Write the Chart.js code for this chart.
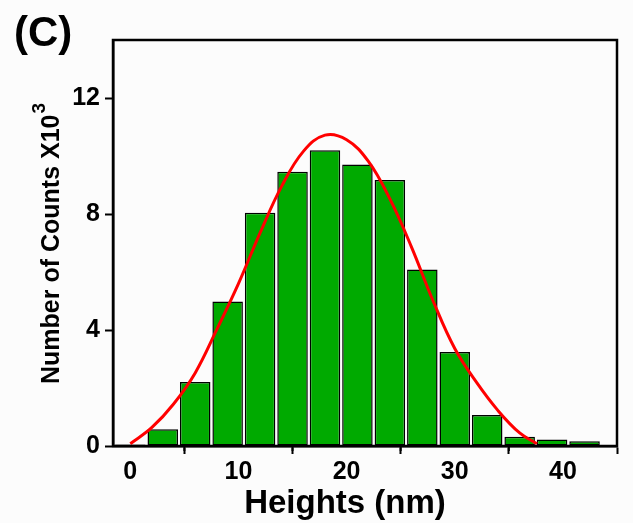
<!DOCTYPE html>
<html lang="en">
<head>
    <meta charset="UTF-8">
    <title>Heights histogram</title>
    <script src="https://cdn.jsdelivr.net/npm/chart.js"></script>
    <style>
        body { margin: 0; background: #fcfcfc; }
        #wrap { width: 633px; height: 523px; }
    </style>
</head>
<body>
    <div id="wrap"><canvas id="heightsChart" width="633" height="523"></canvas></div>
    <script>
        // histogram bins (nm) and counts (x10^3)
        const binCenters = [0, 3, 6, 9, 12, 15, 18, 21, 24, 27, 30, 33, 36, 39, 42];
        const binCounts = [0.05, 0.58, 2.21, 4.98, 8.04, 9.46, 10.2, 9.71, 9.17, 6.09, 3.24, 1.07, 0.32, 0.22, 0.16];

        // fitted curve
        const fitX = [0, 2, 4, 6, 8, 10, 12, 14, 16, 18, 20, 22, 24, 26, 28, 30, 32, 34, 36, 37.6];
        const fitY = [0.08, 0.64, 1.45, 2.52, 4.02, 5.6, 7.35, 8.96, 10.16, 10.72, 10.56, 9.82, 8.52, 6.86, 5.0, 3.36, 2.2, 1.22, 0.45, 0.08];

        const xMajorTicks = [0, 10, 20, 30, 40];
        const yTicks = [0, 4, 8, 12];

        const fontFamily = '"Liberation Sans", Arial, sans-serif';

        const labelsPlugin = {
            id: 'labelsPlugin',
            afterDraw(chart) {
                const ctx = chart.ctx;
                const area = chart.chartArea;
                const xs = chart.scales.x;
                ctx.save();
                // frame
                ctx.strokeStyle = '#000';
                ctx.lineWidth = 2.5;
                ctx.strokeRect(area.left, area.top, area.right - area.left, area.bottom - area.top);
                // minor ticks
                ctx.lineWidth = 2;
                for (let v = 5; v < 45; v += 10) {
                    const px = xs.getPixelForValue(v);
                    ctx.beginPath();
                    ctx.moveTo(px, area.bottom);
                    ctx.lineTo(px, area.bottom + 5);
                    ctx.stroke();
                }
                ctx.fillStyle = '#000';
                // panel letter
                ctx.font = 'bold 42px ' + fontFamily;
                ctx.textAlign = 'left';
                ctx.textBaseline = 'alphabetic';
                ctx.fillText('(C)', 14, 46);
                // x title
                ctx.font = 'bold 33px ' + fontFamily;
                ctx.textAlign = 'center';
                ctx.fillText('Heights (nm)', 345, 513);
                // y title with superscript
                ctx.translate(59, 0);
                ctx.rotate(-Math.PI / 2);
                ctx.font = 'bold 25px ' + fontFamily;
                ctx.textAlign = 'left';
                const main = 'Number of Counts X10';
                ctx.fillText(main, -384, 0);
                const w = ctx.measureText(main).width;
                ctx.font = 'bold 19px ' + fontFamily;
                ctx.fillText('3', -384 + w + 1, -14);
                ctx.restore();
            }
        };

        new Chart(document.getElementById('heightsChart'), {
            type: 'bar',
            data: {
                datasets: [{
                    type: 'line',
                    label: 'Fit',
                    data: fitX.map((x, i) => ({ x: x, y: fitY[i] })),
                    borderColor: '#ff0000',
                    borderWidth: 3,
                    pointRadius: 0,
                    tension: 0.4,
                    fill: false,
                    order: 0
                }, {
                    type: 'bar',
                    label: 'Counts',
                    data: binCenters.map((x, i) => ({ x: x, y: binCounts[i] })),
                    backgroundColor: '#00aa00',
                    borderColor: '#000',
                    borderWidth: 1.5,
                    borderSkipped: false,
                    barPercentage: 0.94,
                    categoryPercentage: 1,
                    order: 1
                }]
            },
            options: {
                responsive: false,
                animation: false,
                layout: { padding: { top: 40, right: 16, left: 0, bottom: 0 } },
                plugins: {
                    legend: { display: false },
                    tooltip: { enabled: false }
                },
                scales: {
                    x: {
                        type: 'linear',
                        min: -1.6,
                        max: 45,
                        offset: false,
                        afterBuildTicks: (scale) => {
                            scale.ticks = xMajorTicks.map(v => ({ value: v }));
                        },
                        ticks: {
                            color: '#000',
                            font: { family: fontFamily, size: 25, weight: 'bold' },
                            padding: 3,
                            maxRotation: 0
                        },
                        grid: {
                            drawOnChartArea: false,
                            color: '#000',
                            tickLength: 8,
                            tickWidth: 2
                        },
                        border: { color: '#000', width: 2.5 },
                        afterFit: (scale) => { scale.height = 77; }
                    },
                    y: {
                        min: 0,
                        max: 14,
                        afterBuildTicks: (scale) => {
                            scale.ticks = yTicks.map(v => ({ value: v }));
                        },
                        ticks: {
                            color: '#000',
                            font: { family: fontFamily, size: 25, weight: 'bold' },
                            padding: 5
                        },
                        grid: {
                            drawOnChartArea: false,
                            color: '#000',
                            tickLength: 8,
                            tickWidth: 2
                        },
                        border: { color: '#000', width: 2.5 },
                        afterFit: (scale) => { scale.width = 113; }
                    }
                }
            },
            plugins: [labelsPlugin]
        });
    </script>
</body>
</html>
